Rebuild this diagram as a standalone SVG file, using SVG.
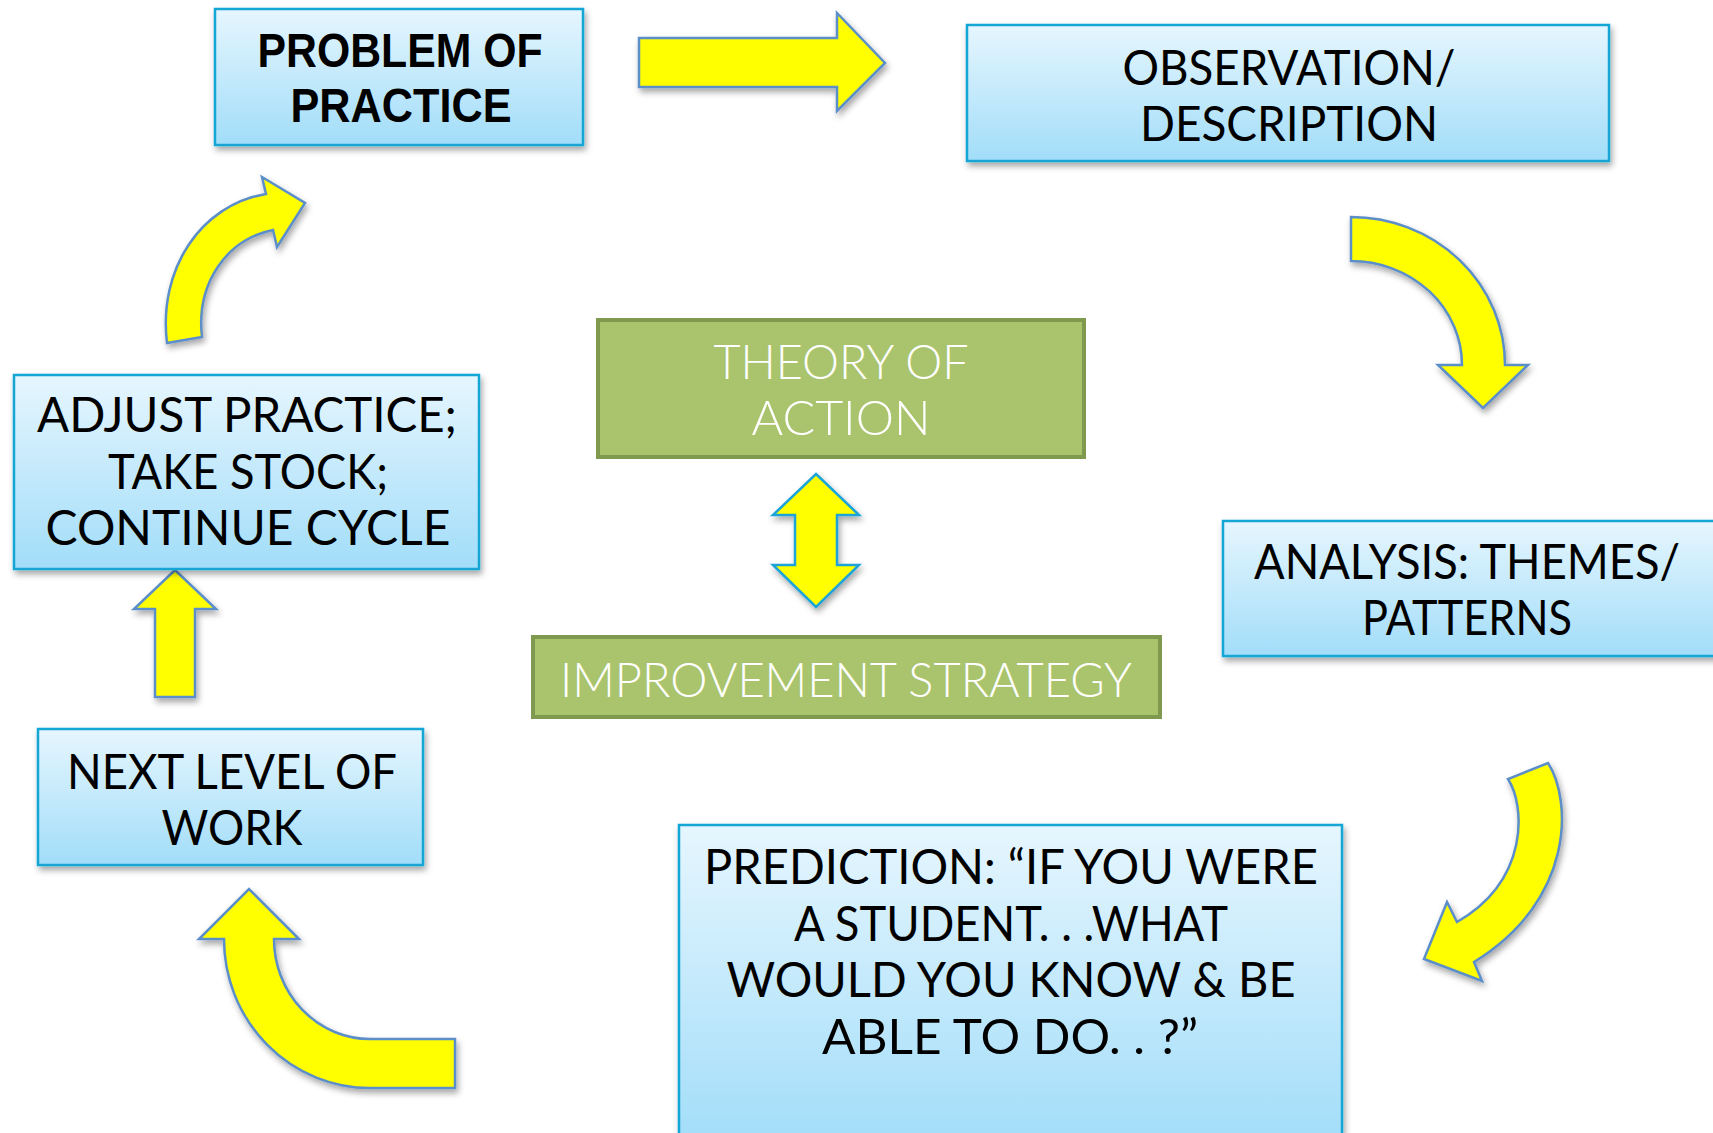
<svg xmlns="http://www.w3.org/2000/svg" width="1713" height="1133" viewBox="0 0 1713 1133">
<defs>
<linearGradient id="blueFill" x1="0" y1="0" x2="0" y2="1">
<stop offset="0" stop-color="#e6f6fe"/>
<stop offset="1" stop-color="#a2ddf9"/>
</linearGradient>
<filter id="shadow" x="-10%" y="-10%" width="120%" height="130%">
<feDropShadow dx="2" dy="4" stdDeviation="3" flood-color="#000" flood-opacity="0.35"/>
</filter>
<style>
.blue{fill:url(#blueFill);stroke:#17a6d6;stroke-width:2.5;filter:url(#shadow)}
.green{fill:#aac46d;stroke:#7f9a4e;stroke-width:4}
.arrow{fill:#ffff00;stroke:#5b8ec9;stroke-width:2.5;stroke-linejoin:miter;filter:url(#shadow)}
.arrow2{fill:#ffff00;stroke:#1ba4d8;stroke-width:2.5;filter:url(#shadow)}
.t{font-family:Lato,"Liberation Sans",sans-serif;font-size:48px;fill:#000;text-anchor:middle}
.tb{font-family:"Liberation Sans",Lato,sans-serif;font-weight:bold;font-size:48px;fill:#000;text-anchor:middle}
.tw{font-family:Lato,"Liberation Sans",sans-serif;font-weight:300;font-size:48px;fill:#fff;text-anchor:middle}
</style>
</defs>
<rect width="1713" height="1133" fill="#fff"/>

<g id="connectors">
<path class="arrow" d="M639,38 L837,38 L837,13 L885,63 L837,111 L837,87 L639,87 Z"/>
<path class="arrow" d="M1351,217 A154,148 0 0 1 1505,365 L1528,365 L1483,408 L1438,365 L1462,365 A111,104 0 0 0 1351,261 Z"/>
<path class="arrow" d="M1548,763 C1572,800 1575,900 1474,962 L1482,981 L1424,959 L1447,902 L1457,922 C1530,880 1525,805 1508,779 Z"/>
<path class="arrow" d="M455,1039 L370,1039 A96,100 0 0 1 274,939 L299,939 L249,889 L199,939 L224,939 A146,149 0 0 0 370,1088 L455,1088 Z"/>
<path class="arrow" d="M155,697 L155,609 L134,609 L175,570 L216,609 L195,609 L195,697 Z"/>
<path class="arrow" d="M167,343 C158,270 200,205 266,194 L262,177 L305,203 L277,247 L273,230 C225,240 196,285 202,337 Z"/>
<path class="arrow2" d="M816,474 L859,515 L837,515 L837,565 L859,565 L816,607 L773,565 L795,565 L795,515 L773,515 Z"/>
</g>

<g id="problem">
<rect class="blue" x="215" y="9" width="368" height="136"/>
<text class="tb" x="400" y="67" textLength="285" lengthAdjust="spacingAndGlyphs">PROBLEM OF</text>
<text class="tb" x="401" y="122" textLength="221" lengthAdjust="spacingAndGlyphs">PRACTICE</text>
</g>

<g id="observation">
<rect class="blue" x="967" y="25" width="642" height="136"/>
<text class="t" x="1289" y="85" textLength="333" lengthAdjust="spacingAndGlyphs">OBSERVATION/</text>
<text class="t" x="1289" y="141" textLength="298" lengthAdjust="spacingAndGlyphs">DESCRIPTION</text>
</g>

<g id="analysis">
<rect class="blue" x="1223" y="521" width="500" height="135"/>
<text class="t" x="1467" y="579" textLength="426" lengthAdjust="spacingAndGlyphs">ANALYSIS: THEMES/</text>
<text class="t" x="1467" y="635" textLength="210" lengthAdjust="spacingAndGlyphs">PATTERNS</text>
</g>

<g id="prediction">
<rect class="blue" x="679" y="825" width="663" height="320"/>
<text class="t" x="1011" y="884" textLength="614" lengthAdjust="spacingAndGlyphs">PREDICTION: “IF YOU WERE</text>
<text class="t" x="1011" y="941" textLength="434" lengthAdjust="spacingAndGlyphs">A STUDENT. . .WHAT</text>
<text class="t" x="1011" y="997" textLength="569" lengthAdjust="spacingAndGlyphs">WOULD YOU KNOW &amp; BE</text>
<text class="t" x="1010" y="1054" textLength="376" lengthAdjust="spacingAndGlyphs">ABLE TO DO. . ?”</text>
</g>

<g id="next-level">
<rect class="blue" x="38" y="729" width="385" height="136"/>
<text class="t" x="232" y="789" textLength="330" lengthAdjust="spacingAndGlyphs">NEXT LEVEL OF</text>
<text class="t" x="232" y="845" textLength="141" lengthAdjust="spacingAndGlyphs">WORK</text>
</g>

<g id="adjust">
<rect class="blue" x="14" y="375" width="465" height="194"/>
<text class="t" x="247" y="432" textLength="420" lengthAdjust="spacingAndGlyphs">ADJUST PRACTICE;</text>
<text class="t" x="248" y="489" textLength="280" lengthAdjust="spacingAndGlyphs">TAKE STOCK;</text>
<text class="t" x="248" y="545" textLength="405" lengthAdjust="spacingAndGlyphs">CONTINUE CYCLE</text>
</g>

<g id="theory">
<rect class="green" x="598" y="320" width="486" height="137"/>
<text class="tw" x="841" y="379" textLength="255" lengthAdjust="spacingAndGlyphs">THEORY OF</text>
<text class="tw" x="841" y="435" textLength="179" lengthAdjust="spacingAndGlyphs">ACTION</text>
</g>

<g id="improvement">
<rect class="green" x="533" y="637" width="627" height="80"/>
<text class="tw" x="846" y="697" textLength="572" lengthAdjust="spacingAndGlyphs">IMPROVEMENT STRATEGY</text>
</g>
</svg>
